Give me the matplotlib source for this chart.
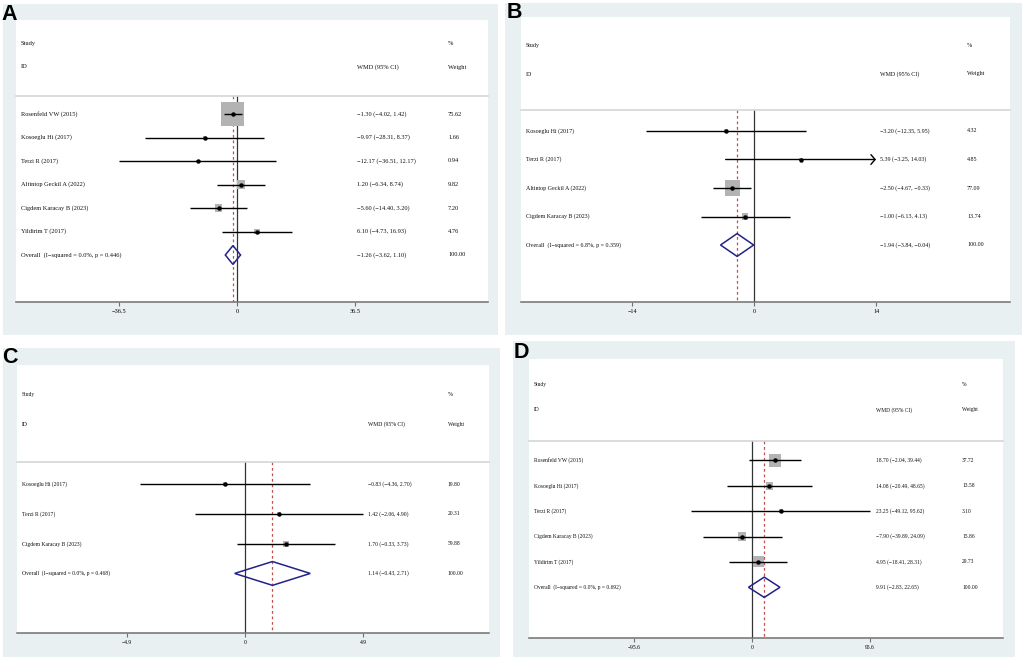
import matplotlib
matplotlib.use("Agg")
import matplotlib.pyplot as plt
from matplotlib.patches import Rectangle, Polygon
from matplotlib.transforms import blended_transform_factory

# ---------------- data ----------------
A_studies = ["Rosenfeld VW (2015)", "Kosoeglu Hi (2017)", "Terzi R (2017)",
             "Altintop Geckil A (2022)", "Cigdem Karacay B (2023)", "Yildirim T (2017)"]
A_est = [-1.30, -9.97, -12.17, 1.20, -5.60, 6.10]
A_lo = [-4.02, -28.31, -36.51, -6.34, -14.40, -4.73]
A_hi = [1.42, 8.37, 12.17, 8.74, 3.20, 16.93]
A_wt = [75.62, 1.66, 0.94, 9.82, 7.20, 4.76]
A_overall = [-1.26, -3.62, 1.10]
A_het = "I\u2212squared = 0.0%, p = 0.446"
A_ticks = [-36.5, 0, 36.5]

B_studies = ["Kosoeglu Hi (2017)", "Terzi R (2017)", "Altintop Geckil A (2022)",
             "Cigdem Karacay B (2023)"]
B_est = [-3.20, 5.39, -2.50, -1.00]
B_lo = [-12.35, -3.25, -4.67, -6.13]
B_hi = [5.95, 14.03, -0.33, 4.13]
B_wt = [4.32, 4.85, 77.09, 13.74]
B_overall = [-1.94, -3.84, -0.04]
B_het = "I\u2212squared = 6.8%, p = 0.359"
B_ticks = [-14, 0, 14]

C_studies = ["Kosoeglu Hi (2017)", "Terzi R (2017)", "Cigdem Karacay B (2023)"]
C_est = [-0.83, 1.42, 1.70]
C_lo = [-4.36, -2.06, -0.33]
C_hi = [2.70, 4.90, 3.73]
C_wt = [19.80, 20.31, 59.88]
C_overall = [1.14, -0.43, 2.71]
C_het = "I\u2212squared = 0.0%, p = 0.468"
C_ticks = [-4.9, 0, 4.9]

D_studies = ["Rosenfeld VW (2015)", "Kosoeglu Hi (2017)", "Terzi R (2017)",
             "Cigdem Karacay B (2023)", "Yildirim T (2017)"]
D_est = [18.70, 14.08, 23.25, -7.90, 4.95]
D_lo = [-2.04, -20.49, -49.12, -39.89, -18.41]
D_hi = [39.44, 48.65, 95.62, 24.09, 28.31]
D_wt = [37.72, 13.58, 3.10, 15.86, 29.73]
D_overall = [9.91, -2.83, 22.65]
D_het = "I\u2212squared = 0.0%, p = 0.692"
D_ticks = [-95.6, 0, 95.6]

# ---------------- layout (pixels) ----------------
W, H = 1024, 658
BG = "#e8f0f2"
SERIF = ["Liberation Serif", "DejaVu Serif"]

fig = plt.figure(figsize=(W / 100, H / 100), dpi=100)
fig.patch.set_facecolor("white")


def fmt(v):
    s = f"{v:.2f}"
    return s.replace("-", "\u2212")


def fmt_tick(v):
    s = f"{v:g}"
    return s.replace("-", "\u2212")


def panel(letter, studies, est, lo, hi, wt, overall, het, ticks, clip,
          bg, white, zero_px, tick_px, fs, k, cols, letter_xy):
    # background
    x0, y0, x1, y1 = bg
    fig.add_artist(Rectangle((x0 / W, 1 - y1 / H), (x1 - x0) / W, (y1 - y0) / H,
                             transform=fig.transFigure, facecolor=BG,
                             edgecolor="none", zorder=0))
    l, t, r, b = white
    ax = fig.add_axes([l / W, 1 - b / H, (r - l) / W, (b - t) / H])
    ax.set_facecolor("white")
    scale = (tick_px - zero_px) / ticks[-1]
    ax.set_xlim((l - zero_px) / scale, (r - zero_px) / scale)
    n = len(studies)
    ax.set_ylim(n + 2, -4)
    for s in ["top", "left", "right"]:
        ax.spines[s].set_visible(False)
    ax.spines["bottom"].set_color("#707070")
    ax.spines["bottom"].set_linewidth(1.1)
    ax.set_yticks([])
    ax.set_xticks(ticks)
    ax.set_xticklabels([fmt_tick(v) for v in ticks], family=SERIF, fontsize=fs)
    ax.tick_params(axis="x", length=3, width=0.8, color="#707070", pad=2)

    tr = blended_transform_factory(ax.transAxes, ax.transData)
    cx = [(c - l) / (r - l) for c in cols]
    hl = -0.75
    # header
    kw = dict(transform=tr, va="center", ha="left", fontsize=fs, family=SERIF, color="#111111")
    ax.text(cx[0], -3, "Study", **kw)
    ax.text(cx[0], -2, "ID", **kw)
    ax.text(cx[1], -2, "WMD (95% CI)", **kw)
    ax.text(cx[2], -3, "%", **kw)
    ax.text(cx[2], -2, "Weight", **kw)
    ax.plot([0, 1], [hl, hl], transform=tr, color="#d5d5d5", lw=1.2, clip_on=False)

    # reference lines
    ax.plot([0, 0], [hl, n + 2], color="#333333", lw=0.9, zorder=1)
    ax.plot([overall[0], overall[0]], [hl, n + 2], color="#c0504d", lw=0.9,
            ls=(0, (2.2, 2.2)), zorder=1)

    # studies
    rows = list(range(n))
    ax.scatter(est, rows, s=[(0.72 * k) ** 2 * w for w in wt], marker="s",
               color="#b3b3b3", zorder=2, linewidths=0)
    for i in rows:
        if hi[i] > clip:
            ax.annotate("", xy=(clip, i), xytext=(lo[i], i),
                        arrowprops=dict(arrowstyle="->,head_length=0.3,head_width=0.35",
                                        lw=1.0, color="black", shrinkA=0, shrinkB=0,
                                        mutation_scale=10), zorder=3)
        else:
            ax.plot([lo[i], hi[i]], [i, i], color="black", lw=1.0, zorder=3,
                    solid_capstyle="butt")
    ax.plot(est, rows, "o", ms=2.2, color="black", zorder=4)

    # overall diamond
    e, ol, oh = overall
    ax.add_patch(Polygon([(ol, n), (e, n - 0.4), (oh, n), (e, n + 0.4)], closed=True,
                         fill=False, edgecolor="#22228a", lw=1.1, zorder=4))

    # text columns
    for i in rows:
        ax.text(cx[0], i, studies[i], **kw)
        ax.text(cx[1], i, f"{fmt(est[i])} ({fmt(lo[i])}, {fmt(hi[i])})", **kw)
        ax.text(cx[2], i, f"{wt[i]:.2f}", **kw)
    ax.text(cx[0], n, f"Overall  ({het})", **kw)
    ax.text(cx[1], n, f"{fmt(e)} ({fmt(ol)}, {fmt(oh)})", **kw)
    ax.text(cx[2], n, "100.00", **kw)

    # panel letter
    fig.text(letter_xy[0] / W, 1 - letter_xy[1] / H, letter, fontsize=15.5,
             fontweight="bold", family=["Liberation Sans", "DejaVu Sans"],
             ha="left", va="top", color="black")


panel("A", A_studies, A_est, A_lo, A_hi, A_wt, A_overall, A_het, A_ticks, 36.51,
      (3, 4, 498, 335), (16, 20, 488, 302), 237, 355, 4.6, 2.65,
      (21, 357, 448), (1, 4))
panel("B", B_studies, B_est, B_lo, B_hi, B_wt, B_overall, B_het, B_ticks, 14.0,
      (505, 3, 1022, 335), (521, 17, 1010, 302), 754, 876, 4.3, 1.71,
      (526, 880, 967), (507, 2))
panel("C", C_studies, C_est, C_lo, C_hi, C_wt, C_overall, C_het, C_ticks, 4.9,
      (3, 348, 500, 657), (17, 365, 489, 633), 245, 363, 4.05, 0.8,
      (22, 368, 448), (2, 347))
panel("D", D_studies, D_est, D_lo, D_hi, D_wt, D_overall, D_het, D_ticks, 95.62,
      (513, 341, 1015, 657), (529, 359, 1003, 638), 752, 870, 4.0, 2.05,
      (534, 876, 962), (514, 342))

fig.savefig("out.png", dpi=100, facecolor="white")
